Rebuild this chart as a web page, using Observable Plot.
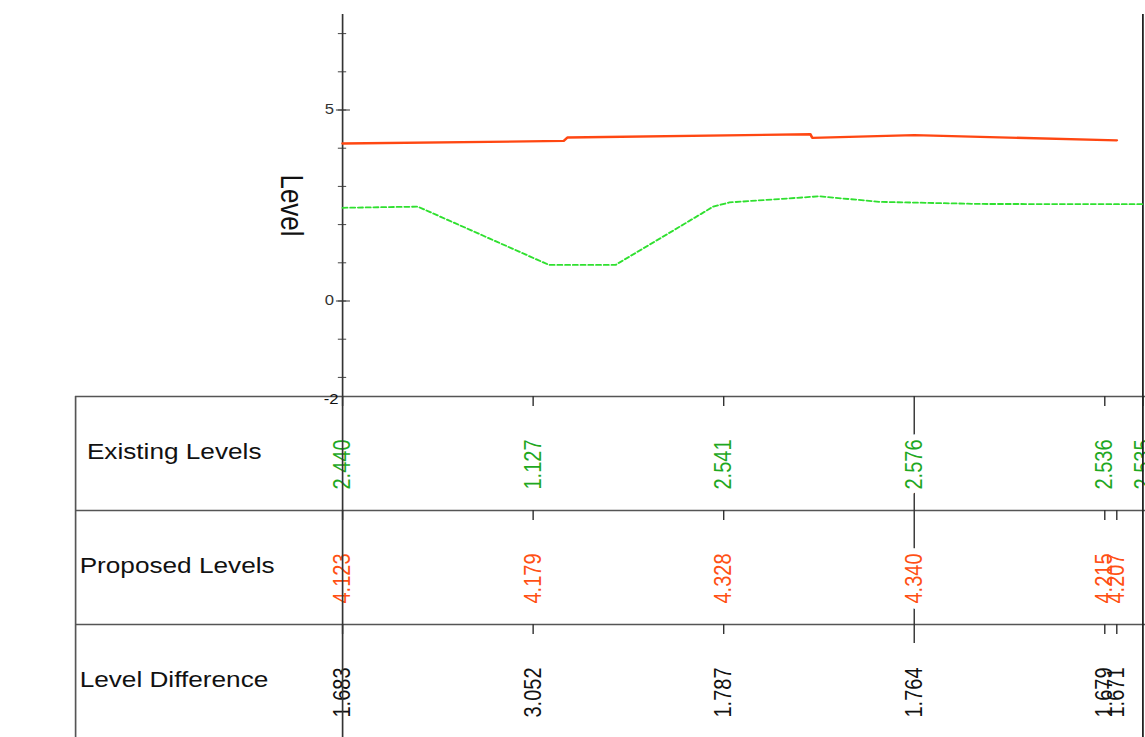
<!DOCTYPE html>
<html><head><meta charset="utf-8">
<script src="https://cdn.jsdelivr.net/npm/d3@7"></script>
<script src="https://cdn.jsdelivr.net/npm/@observablehq/plot@0.6"></script>
<style>
html,body{margin:0;padding:0;background:#fff;}
#wrap{position:relative;width:1145px;height:737px;overflow:hidden;background:#fff;}
#wrap svg{position:absolute;left:0;top:0;}
</style></head><body><div id="wrap"></div>
<script>
// ---- data ----
const existingChainage = [0, 3.95, 10.83, 14.33, 19.45, 20.3, 25.0, 28.2, 33.5, 42];
const existingLevel    = [2.440, 2.47, 0.945, 0.945, 2.47, 2.58, 2.74, 2.595, 2.54, 2.535];
const proposedChainage = [0, 11.6, 11.8, 24.55, 24.65, 30, 40.63];
const proposedLevel    = [4.123, 4.19, 4.28, 4.365, 4.27, 4.340, 4.207];

const rowTitles = ["\u00a0Existing Levels", "Proposed Levels", "Level Difference"];
const existingLabelChainage = [0, 10, 20, 30, 40, 42];
const existingLabels   = [2.440, 1.127, 2.541, 2.576, 2.536, 2.535];
const proposedLabelChainage = [0, 10, 20, 30, 40, 40.63];
const proposedLabels   = [4.123, 4.179, 4.328, 4.340, 4.215, 4.207];
const differenceLabels = [1.683, 3.052, 1.787, 1.764, 1.679, 1.671];

const levelMinorTicks = [-2, -1, 0, 1, 2, 3, 4, 5, 6, 7];
const levelMajorTicks = [0, 5];
const levelBottomTick = [-2.5];
const levelDomain = [-2.5, 7.5];
const chainageDomain = [0, 42];
const highlightChainage = 30;

// ---- layout / style ----
const SCREEN_W = 1145;
const W = 962;                 // internal width (stretched horizontally to 1145)
const K = SCREEN_W / W;
const ML = 342 / K;
const MR = W - 1142.3 / K;
const TL = 75 / K;             // table left border
const FONT = "'Liberation Sans', Arial, Helvetica, sans-serif";
const LINE = "#555";
const rowColors = ["#1fa81f", "#ff5014", "#111111"];
const fmt = d3.format(".3f");
const levelFormat = d => String(Math.trunc(d));

const existing = existingChainage.map((c, i) => ({c, v: existingLevel[i]}));
const proposed = proposedChainage.map((c, i) => ({c, v: proposedLevel[i]}));

const rowCells = [
  existingLabelChainage.map((c, j) => ({c, t: fmt(existingLabels[j])})),
  proposedLabelChainage.map((c, j) => ({c, t: fmt(proposedLabels[j])})),
  proposedLabelChainage.map((c, j) => ({c, t: fmt(differenceLabels[j])}))
];

const SHORT = 10 / 114, DIFF_LONG = 19 / 114;
const tableTicks = rowCells.flatMap((cells, i) => cells.map(d => ({
  c: d.c,
  y1: i,
  y2: i + (d.c === highlightChainage ? (i < 2 ? 1 : DIFF_LONG) : SHORT)
})));

function stretch(svg, h) {
  svg.setAttribute("preserveAspectRatio", "none");
  svg.setAttribute("width", SCREEN_W);
  svg.setAttribute("height", h);
  svg.style.width = SCREEN_W + "px";
  svg.style.height = h + "px";
  svg.style.maxWidth = "none";
  return svg;
}

// ---- table (lower band) ----
const valueMarks = rowCells.flatMap((cells, i) => [
  Plot.text(cells, {
    filter: d => d.c === highlightChainage,
    x: "c", y: () => i + 1, text: "t", dy: -21,
    rotate: -90, textAnchor: "start", lineAnchor: "middle",
    fontSize: 20, fill: rowColors[i], stroke: "white", strokeWidth: 12, paintOrder: "stroke"
  }),
  Plot.text(cells, {
    filter: d => d.c !== highlightChainage,
    x: "c", y: () => i + 1, text: "t", dy: -21,
    rotate: -90, textAnchor: "start", lineAnchor: "middle",
    fontSize: 20, fill: rowColors[i]
  })
]);

const table = Plot.plot({
  width: W, height: 738,
  marginLeft: ML, marginRight: MR, marginTop: 396, marginBottom: 0,
  x: {domain: chainageDomain, axis: null},
  y: {domain: [0, 3], range: [396, 738], axis: null},
  style: {background: "transparent", fontFamily: FONT},
  marks: [
    Plot.ruleY([0, 1, 2], {y: d => d, insetLeft: -(ML - TL), insetRight: -MR, stroke: LINE, strokeWidth: 1.4}),
    Plot.ruleX([chainageDomain[0]], {x: d => d, y1: 0, y2: 3, dx: -(ML - TL), stroke: LINE, strokeWidth: 1.4}),
    Plot.ruleX(tableTicks, {x: "c", y1: "y1", y2: "y2", stroke: "#333", strokeWidth: 1.2}),
    ...valueMarks,
    Plot.ruleX([chainageDomain[0]], {x: d => d, y1: 0, y2: 3, stroke: "#333", strokeWidth: 1.4}),
    Plot.ruleX([chainageDomain[1]], {x: d => d, y1: 0, y2: 3, stroke: "#222", strokeWidth: 1.5}),
    Plot.text(rowTitles, {
      frameAnchor: "left", y: (d, i) => i + 0.5, dx: 66.4 - ML, dy: -2,
      textAnchor: "start", lineAnchor: "middle", fontSize: 22, fill: "#111"
    })
  ]
});

// ---- profile chart (upper band) ----
const chart = Plot.plot({
  width: W, height: 737,
  marginLeft: ML, marginRight: MR, marginTop: 14, marginBottom: 341,
  x: {domain: chainageDomain, axis: null},
  y: {domain: levelDomain, label: null},
  style: {background: "transparent", fontFamily: FONT},
  marks: [
    Plot.axisY({ticks: levelMinorTicks, tickSize: 7, dx: 3.5, tickFormat: () => "", color: "#444", label: null}),
    Plot.axisY({ticks: levelMajorTicks, tickSize: 11.8, dx: 6.7, tickPadding: 2,
      tickFormat: levelFormat, fontSize: 14, color: "#333", label: null}),
    Plot.axisY({ticks: levelBottomTick, tickSize: 0, dx: -1.5, dy: 3, tickPadding: 2,
      tickFormat: levelFormat, fontSize: 14, color: "#111", label: null}),
    Plot.ruleX([chainageDomain[0]], {x: d => d, stroke: "#333", strokeWidth: 1.4}),
    Plot.ruleX([chainageDomain[1]], {x: d => d, stroke: "#222", strokeWidth: 1.5}),
    Plot.line(existing, {x: "c", y: "v", stroke: "#2fe02f", strokeWidth: 1.8, strokeDasharray: "4,2.5"}),
    Plot.line(proposed, {x: "c", y: "v", stroke: "#ff4712", strokeWidth: 2.3}),
    Plot.text(["Level"], {frameAnchor: "left", dx: 244 - ML, rotate: 90,
      textAnchor: "middle", lineAnchor: "middle", fontSize: 26, fill: "#111"})
  ]
});

const wrap = document.getElementById("wrap");
wrap.appendChild(stretch(table, 738));
wrap.appendChild(stretch(chart, 737));
</script>
</body></html>
